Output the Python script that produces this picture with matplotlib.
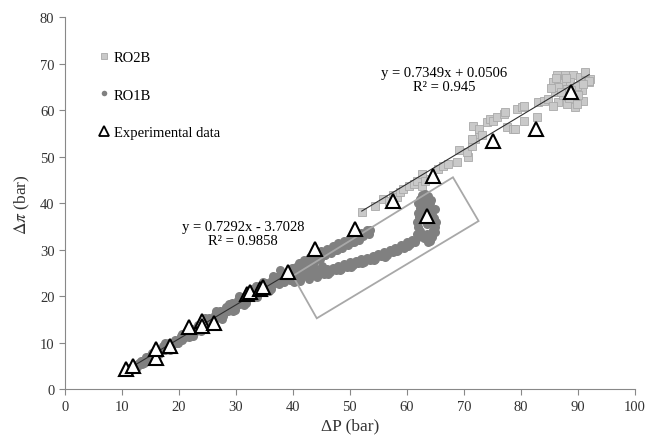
import numpy as np
import matplotlib
matplotlib.use("Agg")
import matplotlib.pyplot as plt
from matplotlib.lines import Line2D
from matplotlib.patches import Polygon

plt.rcParams["font.family"] = ["Liberation Serif", "DejaVu Serif"]
plt.rcParams["mathtext.fontset"] = "stix"

# RO1B - main band (dP, dpi)
ro1b_x = [11.0, 11.3, 11.6, 12.0, 12.3, 12.6, 13.0, 13.3, 13.6, 14.0, 14.3, 14.6,
          15.0, 15.3, 15.6, 16.0, 16.3, 16.6, 17.0, 17.3, 17.6, 18.0, 18.3, 18.6,
          19.0, 19.3, 19.6, 20.0, 20.3, 20.6, 21.0, 21.3, 21.6, 22.0, 22.3, 22.6,
          23.0, 23.3, 23.6, 24.0, 24.3, 24.6, 25.0, 25.3, 25.6, 26.0, 26.3, 26.6,
          27.0, 27.3, 27.6, 28.0, 28.3, 28.6, 29.0, 29.3, 29.6, 30.0, 30.3, 30.6,
          31.0, 31.3, 31.6, 32.0, 32.3, 32.6, 33.0, 33.3, 33.6, 34.0, 34.3, 34.6,
          35.0, 35.3, 35.6, 36.0, 36.3, 36.6, 37.0, 37.3, 37.6, 38.0, 38.3, 38.6,
          39.0, 39.3, 39.6, 40.0,
          17.5, 18.5, 20.5, 22.5, 24.5, 26.5, 27.5, 29.5, 30.5, 31.5, 33.5, 36.5,
          28.8, 32.8, 34.8, 37.8, 21.8, 23.8, 25.8, 27.8, 29.8, 31.8, 33.8, 35.8,
          19.8, 15.8, 13.8, 36.2, 38.2, 39.8]
ro1b_y = [4.0, 4.6, 4.2, 4.9, 5.3, 4.8, 5.6, 6.2, 5.5, 6.3, 7.0, 6.2,
          7.1, 7.8, 6.9, 7.6, 8.5, 7.6, 8.4, 9.3, 8.5, 9.0, 10.0, 9.1,
          9.8, 10.7, 9.9, 10.6, 11.5, 10.6, 11.3, 12.3, 11.4, 12.0, 13.1, 12.2,
          12.7, 13.9, 13.0, 13.4, 14.6, 13.8, 14.2, 15.3, 14.6, 15.0, 16.1, 15.3,
          15.8, 16.9, 16.0, 16.5, 17.7, 16.8, 17.3, 18.5, 17.6, 18.0, 19.2, 18.3,
          18.7, 19.9, 19.1, 19.4, 20.6, 19.8, 20.2, 21.3, 20.5, 21.0, 22.0, 21.2,
          21.6, 22.8, 22.0, 22.3, 23.5, 22.7, 23.1, 24.2, 23.4, 23.9, 25.0, 24.2,
          24.5, 25.7, 24.9, 25.3,
          10.0, 8.5, 12.0, 11.5, 15.3, 16.8, 15.2, 16.8, 20.0, 18.2, 22.3, 24.3,
          18.4, 21.5, 23.1, 25.6, 11.3, 12.6, 14.2, 15.7, 17.0, 18.6, 19.8, 21.2,
          9.9, 7.0, 5.7, 21.7, 23.3, 26.2]

# RO1B - upper branch
ro1b_up_x = [40.5, 41.0, 41.3, 42.0, 42.4, 43.0, 43.4, 44.0, 44.4, 45.0, 45.4,
             46.0, 46.4, 47.0, 47.4, 48.0, 48.4, 49.0, 49.4, 50.0, 50.4, 51.0,
             51.4, 52.0, 52.4, 53.0, 53.4, 53.6,
             41.7, 42.7, 43.7, 44.7, 45.7, 46.7, 47.7, 48.7, 49.7, 50.7, 51.7]
ro1b_up_y = [26.3, 27.2, 26.5, 27.9, 27.1, 28.5, 27.7, 29.1, 28.3, 29.7, 28.9,
             30.2, 29.5, 30.8, 30.0, 31.4, 30.6, 32.0, 31.2, 32.5, 31.8, 33.1,
             32.4, 33.6, 32.9, 34.2, 33.5, 34.3,
             26.3, 26.9, 27.4, 28.0, 28.8, 29.3, 29.9, 30.5, 31.0, 31.6, 32.1]

# RO1B - lower branch
ro1b_lo_x = [40.5, 41.0, 41.5, 42.0, 42.5, 43.0, 43.5, 44.0, 44.5, 45.0, 45.5,
             46.0, 46.5, 47.0, 47.5, 48.0, 48.5, 49.0, 49.5, 50.0, 50.5, 51.0,
             51.5, 52.0, 52.5, 53.0, 53.5, 54.0, 54.5, 55.0, 55.5, 56.0, 56.5,
             57.0, 57.5, 58.0, 58.5, 59.0, 59.5, 60.0, 60.5, 61.0, 61.5,
             41.2, 42.8, 43.8, 45.2, 38.5, 39.5, 40.2, 37.5,
             42.2, 44.2, 46.2, 48.2, 50.2, 52.2, 54.2, 56.2, 58.2, 60.2]
ro1b_lo_y = [24.0, 24.8, 24.2, 25.0, 24.4, 25.2, 24.6, 25.3, 24.5, 25.5, 24.9,
             25.8, 25.2, 26.1, 25.6, 26.6, 26.0, 26.9, 26.4, 27.3, 26.8, 27.6,
             27.1, 28.0, 27.5, 28.3, 27.8, 28.7, 28.1, 29.1, 28.6, 29.6, 29.0,
             30.0, 29.5, 30.5, 30.0, 31.1, 30.5, 31.7, 31.2, 32.1, 31.8,
             23.4, 23.8, 26.2, 26.6, 23.2, 23.6, 23.0, 22.6,
             25.7, 24.1, 24.8, 25.6, 26.3, 27.1, 27.8, 28.5, 29.7, 30.8]

# RO1B - loop at high dP
ro1b_loop_x = [62.0, 62.5, 63.0, 63.5, 64.0, 64.5, 63.8, 62.3, 62.0, 61.8, 62.2,
               61.9, 62.3, 62.0, 62.4, 62.6, 63.2, 63.8, 64.3, 64.0, 63.6, 63.8,
               64.5, 64.8, 65.2, 65.0, 64.6, 63.5, 63.0, 63.2, 62.8, 63.5, 65.0,
               62.7, 64.2, 61.8, 64.9]
ro1b_loop_y = [32.8, 33.2, 32.5, 33.5, 32.0, 32.8, 31.6, 34.0, 35.0, 36.0, 37.0,
               38.0, 39.0, 40.0, 41.0, 41.8, 42.0, 41.5, 40.8, 40.0, 39.2, 38.3,
               37.6, 36.8, 36.0, 35.0, 34.2, 35.5, 36.5, 38.0, 39.5, 40.5, 33.8,
               37.6, 36.0, 33.5, 38.8]

# RO2B
ro2b_x = [52.1, 54.4, 55.9, 56.8, 57.6, 58.2, 58.8, 59.4, 60.3, 61.2, 61.8, 62.6,
          62.6, 63.2, 64.1, 65.5, 66.4, 67.3, 68.8, 69.1, 70.8, 70.5, 71.4, 72.0,
          72.6, 71.4, 71.7, 72.6, 73.2, 74.0, 74.6, 75.2, 75.8, 77.0, 77.5, 78.7,
          79.3, 80.2, 80.5, 77.2, 80.5, 79.0, 82.8, 83.1, 84.0, 84.8, 86.0, 86.3,
          86.6, 85.7, 87.2, 87.8, 89.2, 90.4, 91.3, 91.9, 92.2, 90.7, 91.0, 89.5,
          88.1, 87.5, 86.6, 88.7, 89.8, 88.9, 85.7, 88.1, 90.1, 91.9, 91.3,
          87.0, 89.9, 86.2, 88.4, 90.9, 85.3, 87.9]
ro2b_y = [38.2, 39.4, 41.0, 40.6, 41.7, 41.3, 42.4, 43.1, 43.7, 44.2, 44.9, 46.3,
          43.8, 44.7, 45.3, 47.4, 48.1, 48.5, 48.9, 51.4, 49.9, 51.0, 52.4, 53.9,
          54.9, 53.9, 56.7, 56.0, 54.6, 57.5, 58.2, 57.8, 58.5, 59.2, 56.4, 56.0,
          60.3, 60.7, 57.8, 59.6, 61.0, 56.0, 58.5, 61.8, 62.1, 62.5, 63.9, 67.5,
          61.8, 66.1, 66.4, 67.5, 67.6, 67.1, 68.1, 66.1, 66.8, 64.3, 62.1, 60.7,
          61.4, 63.2, 65.0, 66.1, 65.3, 64.3, 61.0, 64.6, 63.2, 66.4, 68.2,
          64.0, 61.3, 66.9, 62.6, 65.7, 64.8, 67.0]

# Experimental data
exp_x = [10.8, 12.0, 16.0, 16.0, 18.5, 21.7, 24.0, 24.1, 26.2, 31.9, 32.5, 34.2,
         34.8, 39.1, 43.9, 50.9, 57.6, 63.5, 64.6, 75.2, 82.7, 88.9]
exp_y = [4.4, 5.1, 6.7, 8.7, 9.4, 13.5, 14.8, 13.7, 14.3, 20.5, 21.0, 21.6,
         22.0, 25.2, 30.2, 34.5, 40.6, 37.2, 45.8, 53.5, 56.0, 64.0]

# trend lines (from the equations on the chart)
fit_ro1b = (0.7292, -3.7028)
fit_ro2b = (0.7349, 0.0506)
fit_ro1b_range = (10.5, 39.5)
fit_ro2b_range = (52.1, 92.0)

# highlighted region (corners)
box_x = [40.0, 44.2, 72.6, 68.1]
box_y = [24.4, 15.3, 36.2, 45.6]

fig = plt.figure(figsize=(6.49, 4.39), dpi=100)
ax = fig.add_axes([0.1, 0.1105, 0.878, 0.848])

sq = dict(marker="s", ms=6, mfc="#c9c9c9", mec="#a9a9a9", mew=0.6, ls="none")
dot = dict(marker="o", ms=6.5, mfc="#808080", mec="#808080", mew=0, ls="none")

ax.plot(ro2b_x, ro2b_y, **sq)
ax.plot(ro1b_x + ro1b_up_x + ro1b_lo_x + ro1b_loop_x,
        ro1b_y + ro1b_up_y + ro1b_lo_y + ro1b_loop_y, **dot)

xx = np.array(fit_ro1b_range)
ax.plot(xx, fit_ro1b[0] * xx + fit_ro1b[1], color="#303030", lw=0.8)
xx = np.array(fit_ro2b_range)
ax.plot(xx, fit_ro2b[0] * xx + fit_ro2b[1], color="#303030", lw=0.8)

ax.add_patch(Polygon(list(zip(box_x, box_y)), closed=True, fill=False,
                     edgecolor="#a8a8a8", lw=1.3, zorder=3))

ax.plot(exp_x, exp_y, marker="^", ms=10, mfc="white", mec="black", mew=1.5,
        ls="none", zorder=4)

ax.text(66.6, 66.6, "y = 0.7349x + 0.0506\nR² = 0.945", ha="center", va="center",
        fontsize=10.5, linespacing=1.15)
ax.text(31.3, 33.5, "y = 0.7292x - 3.7028\nR² = 0.9858", ha="center", va="center",
        fontsize=10.5, linespacing=1.15)

ax.set_xlim(0, 100)
ax.set_ylim(0, 80)
ax.set_xticks(range(0, 101, 10))
ax.set_yticks(range(0, 81, 10))
ax.tick_params(direction="out", length=4, width=0.8, color="#888888",
               labelsize=10.5, labelcolor="#333333")
for s in ["top", "right"]:
    ax.spines[s].set_visible(False)
for s in ["left", "bottom"]:
    ax.spines[s].set_color("#888888")
    ax.spines[s].set_linewidth(0.8)

ax.set_xlabel("ΔP (bar)", fontsize=12.5, color="#333333", labelpad=3)
ax.set_ylabel(r"$\Delta\pi$ (bar)", fontsize=12.5, color="#333333", labelpad=6)

handles = [
    Line2D([], [], marker="s", ms=5, mfc="#c9c9c9", mec="#a9a9a9", mew=0.6, ls="none"),
    Line2D([], [], marker="o", ms=4, mfc="#808080", mec="#808080", mew=0, ls="none"),
    Line2D([], [], marker="^", ms=6.5, mfc="white", mec="black", mew=1.3, ls="none"),
]
ax.legend(handles, ["RO2B", "RO1B", "Experimental data"], loc="upper left",
          bbox_to_anchor=(0.055, 0.909), frameon=False, fontsize=10.5,
          handlelength=1.0, handletextpad=0.2, labelspacing=1.65,
          borderpad=0, borderaxespad=0)

fig.savefig("out.png", dpi=100)
